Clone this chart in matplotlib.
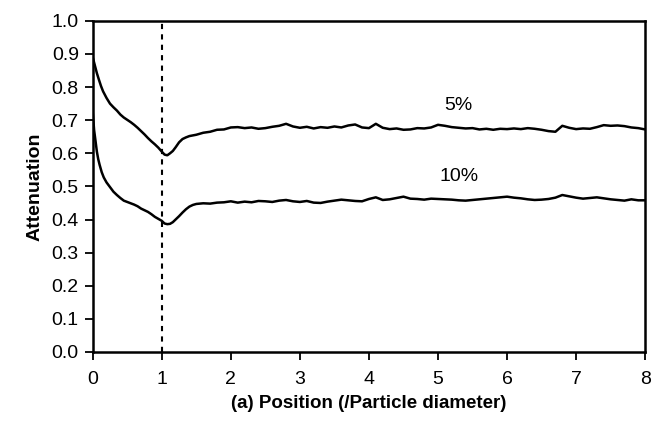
import numpy as np
import matplotlib.pyplot as plt

plt.rcParams['font.family'] = ['Liberation Sans', 'DejaVu Sans']

# 5% curve
x_5 = [0, 0.03, 0.06, 0.09, 0.12, 0.15, 0.2, 0.25, 0.3, 0.35, 0.4, 0.45, 0.5,
       0.55, 0.6, 0.65, 0.7, 0.75, 0.8, 0.85, 0.9, 0.95, 1.0, 1.04, 1.08, 1.12,
       1.16, 1.2, 1.25, 1.3, 1.35, 1.4, 1.5, 1.6, 1.7, 1.8, 1.9, 2.0,
       2.1, 2.2, 2.3, 2.4, 2.5, 2.6, 2.7, 2.8, 2.9, 3.0,
       3.1, 3.2, 3.3, 3.4, 3.5, 3.6, 3.7, 3.8, 3.9, 4.0,
       4.1, 4.2, 4.3, 4.4, 4.5, 4.6, 4.7, 4.8, 4.9, 5.0,
       5.1, 5.2, 5.3, 5.4, 5.5, 5.6, 5.7, 5.8, 5.9, 6.0,
       6.1, 6.2, 6.3, 6.4, 6.5, 6.6, 6.7, 6.8, 6.9, 7.0,
       7.1, 7.2, 7.3, 7.4, 7.5, 7.6, 7.7, 7.8, 7.9, 8.0]
y_5 = [0.890, 0.866, 0.842, 0.822, 0.803, 0.787, 0.767, 0.750, 0.739, 0.729,
       0.717, 0.708, 0.701, 0.694, 0.686, 0.677, 0.667, 0.657, 0.646, 0.636,
       0.627, 0.617, 0.605, 0.596, 0.594, 0.600, 0.607, 0.618, 0.633, 0.643,
       0.648, 0.652, 0.656, 0.662, 0.665, 0.671, 0.672, 0.678,
       0.679, 0.676, 0.678, 0.674, 0.676, 0.680, 0.683, 0.689, 0.681, 0.677,
       0.680, 0.675, 0.679, 0.677, 0.681, 0.678, 0.684, 0.687, 0.678, 0.676,
       0.689, 0.677, 0.673, 0.675, 0.671, 0.672, 0.676, 0.675, 0.678, 0.686,
       0.683, 0.679, 0.677, 0.675, 0.676, 0.672, 0.674, 0.671, 0.674, 0.673,
       0.675, 0.673, 0.676, 0.674, 0.671, 0.667, 0.665, 0.683, 0.677, 0.673,
       0.675, 0.674, 0.679, 0.685, 0.683, 0.684, 0.682, 0.678, 0.676, 0.672]

# 10% curve
x_10 = [0, 0.02, 0.04, 0.06, 0.08, 0.1, 0.13, 0.16, 0.2, 0.25, 0.3, 0.35, 0.4,
        0.45, 0.5, 0.55, 0.6, 0.65, 0.7, 0.75, 0.8, 0.85, 0.9, 0.95, 1.0, 1.04,
        1.08, 1.12, 1.16, 1.2, 1.25, 1.3, 1.35, 1.4, 1.45, 1.5, 1.6, 1.7, 1.8,
        1.9, 2.0,
        2.1, 2.2, 2.3, 2.4, 2.5, 2.6, 2.7, 2.8, 2.9, 3.0,
        3.1, 3.2, 3.3, 3.4, 3.5, 3.6, 3.7, 3.8, 3.9, 4.0,
        4.1, 4.2, 4.3, 4.4, 4.5, 4.6, 4.7, 4.8, 4.9, 5.0,
        5.1, 5.2, 5.3, 5.4, 5.5, 5.6, 5.7, 5.8, 5.9, 6.0,
        6.1, 6.2, 6.3, 6.4, 6.5, 6.6, 6.7, 6.8, 6.9, 7.0,
        7.1, 7.2, 7.3, 7.4, 7.5, 7.6, 7.7, 7.8, 7.9, 8.0]
y_10 = [0.724, 0.670, 0.638, 0.605, 0.582, 0.565, 0.543, 0.527, 0.512, 0.498,
        0.484, 0.474, 0.465, 0.457, 0.453, 0.449, 0.445, 0.440, 0.433, 0.428,
        0.423, 0.416, 0.408, 0.402, 0.396, 0.388, 0.386, 0.387, 0.392, 0.400,
        0.410, 0.421, 0.431, 0.439, 0.444, 0.447, 0.449, 0.448, 0.451, 0.452,
        0.455,
        0.451, 0.454, 0.452, 0.456, 0.455, 0.453, 0.457, 0.459, 0.455, 0.453,
        0.456, 0.451, 0.450, 0.454, 0.457, 0.460, 0.458, 0.456, 0.455, 0.462,
        0.467, 0.459, 0.461, 0.465, 0.469, 0.463, 0.462, 0.460, 0.463, 0.462,
        0.461, 0.460, 0.458, 0.457, 0.459, 0.461, 0.463, 0.465, 0.467, 0.469,
        0.466, 0.464, 0.461, 0.459, 0.460, 0.462, 0.466, 0.474, 0.470, 0.466,
        0.463, 0.465, 0.467, 0.464, 0.461, 0.459, 0.457, 0.461, 0.458, 0.458]

fig = plt.figure(figsize=(6.53, 4.34), dpi=100)
ax = fig.add_axes([0.142, 0.189, 0.846, 0.763])

ax.plot(x_5, y_5, color='black', lw=1.8)
ax.plot(x_10, y_10, color='black', lw=1.8)
ax.axvline(1, color='black', lw=1.5, linestyle=(0, (2.5, 2.5)))

ax.text(5.3, 0.745, '5%', fontsize=14, ha='center', va='center')
ax.text(5.3, 0.53, '10%', fontsize=14, ha='center', va='center')

ax.set_xlim(0, 8)
ax.set_ylim(0, 1.0)
ax.set_xticks(range(0, 9))
ax.set_yticks(np.arange(0, 1.01, 0.1))
ax.set_yticklabels(['%.1f' % v for v in np.arange(0, 1.01, 0.1)])
ax.tick_params(direction='out', length=6, width=1.3, labelsize=14, pad=4)
ax.tick_params(axis='x', pad=8)
for s in ax.spines.values():
    s.set_linewidth(1.8)

ax.set_ylabel('Attenuation', fontsize=14, fontweight='bold', labelpad=6)
ax.set_xlabel('(a) Position (/Particle diameter)', fontsize=13.5, fontweight='bold', labelpad=5)

fig.savefig('out.png', dpi=100)
